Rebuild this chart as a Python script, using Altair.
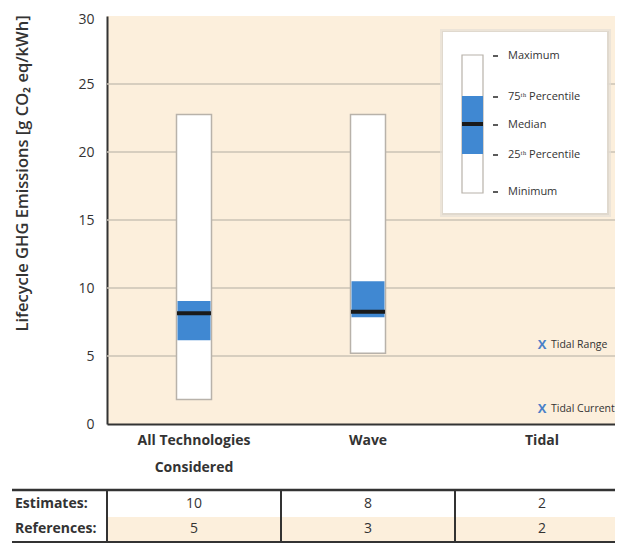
import altair as alt
import pandas as pd

# ---- data ----
categories = ["All Technologies\nConsidered", "Wave", "Tidal"]
box_categories = ["All Technologies\nConsidered", "Wave"]
minimum = [1.8, 5.2]
q1 = [6.15, 7.85]
median = [8.15, 8.25]
q3 = [9.05, 10.5]
maximum = [22.75, 22.75]

tidal_types = ["Tidal Range", "Tidal Current"]
tidal_values = [5.8, 1.1]

estimates = [10, 8, 2]
references = [5, 3, 2]

grid_values = [5, 10, 15, 20, 25]
y_ticks = [0, 5, 10, 15, 20, 25, 30]

# ---- tables ----
box_df = pd.DataFrame({"cat": box_categories, "min": minimum, "q1": q1,
                       "med": median, "q3": q3, "max": maximum})
tidal_df = pd.DataFrame({"cat": ["Tidal"] * len(tidal_types),
                         "type": tidal_types, "val": tidal_values})
table_df = pd.DataFrame({"cat": categories, "est": estimates, "ref": references})
grid_df = pd.DataFrame({"v": grid_values})
dummy = pd.DataFrame({"a": [0]})

W, H = 508, 408
FONT = "Open Sans"
DARK = "#333333"
BEIGE = "#FCEFDC"
BLUE = "#4088D2"

xscale = alt.Scale(domain=categories, range=[0, 522], paddingInner=0, paddingOuter=0)
yscale = alt.Scale(domain=[0, 30], nice=False)

X = alt.X("cat:N", scale=xscale, sort=categories,
          axis=alt.Axis(title=None, domain=True, domainColor=DARK, domainWidth=2,
                        ticks=False, labelAngle=0, labelFont=FONT, labelFontSize=14,
                        labelFontWeight="bold", labelColor=DARK, labelPadding=9,
                        labelLineHeight=27, labelExpr="split(datum.label, '\\n')"))
Y_axis = alt.Axis(title="Lifecycle GHG Emissions [g CO\u2082 eq/kWh]", values=y_ticks,
                  grid=False, domain=True, domainColor=DARK, domainWidth=2,
                  ticks=False, labelFont=FONT, labelFontSize=14, labelColor=DARK,
                  labelPadding=13,
                  labelOffset={"condition": {"test": "datum.value == 30", "value": 3},
                               "value": 0},
                  titleFont=FONT, titleFontSize=16.5,
                  titleFontWeight=600, titleColor=DARK, titleAngle=270,
                  titleX=-85, titleY=157, titleAlign="center", titleBaseline="middle")

grid = alt.Chart(grid_df).mark_rule(color="#CBC3B6", strokeWidth=1.5).encode(
    y=alt.Y("v:Q", scale=yscale, axis=Y_axis), x=alt.value(0), x2=alt.value(W))

whisker = alt.Chart(box_df).mark_bar(size=35, color="white", stroke="#B8B2AA",
                                     strokeWidth=1.5).encode(
    x=X, y=alt.Y("min:Q", scale=yscale), y2="max:Q")
iqr = alt.Chart(box_df).mark_bar(size=33, color=BLUE).encode(
    x=X, y=alt.Y("q1:Q", scale=yscale), y2="q3:Q")
med = alt.Chart(box_df).mark_tick(size=34, thickness=4, color="#1A1A1A", opacity=1).encode(
    x=X, y=alt.Y("med:Q", scale=yscale))

tidal_x = alt.Chart(tidal_df).mark_text(text="X", font=FONT, fontSize=13,
                                        fontWeight="bold", color="#4A80C8").encode(
    x=X, y=alt.Y("val:Q", scale=yscale))
tidal_lab = alt.Chart(tidal_df).mark_text(align="left", dx=9, font=FONT, fontSize=10.5,
                                          color=DARK).encode(
    x=X, y=alt.Y("val:Q", scale=yscale), text="type:N")


def rect(x, x2, y, y2, **kw):
    return alt.Chart(dummy).mark_rect(**kw).encode(
        x=alt.value(x), x2=alt.value(x2), y=alt.value(y), y2=alt.value(y2))


def hline(x, x2, y, **kw):
    return alt.Chart(dummy).mark_rule(**kw).encode(
        x=alt.value(x), x2=alt.value(x2), y=alt.value(y))


def txt(s, x, y, **kw):
    return alt.Chart(dummy).mark_text(text=s, baseline="middle", font=FONT, **kw).encode(
        x=alt.value(x), y=alt.value(y))


# ---- legend box ----
legend_layers = [
    rect(333, 504, 13, 201, color="#E6DFD5", opacity=0.7),
    rect(335, 502, 15, 199, color="#DDD6CC", opacity=0.8),
    rect(336, 500, 16, 197, color="white"),
    rect(355, 376, 39, 177, color="white", stroke="#B8B2AA", strokeWidth=1.2),
    rect(355, 376, 80, 138, color=BLUE),
    rect(355, 376, 106, 110, color="#1A1A1A"),
]
legend_items = [("Maximum", 40), ("75\u1d57\u02b0 Percentile", 81), ("Median", 109),
                ("25\u1d57\u02b0 Percentile", 139), ("Minimum", 176)]
for lab, yy in legend_items:
    legend_layers.append(hline(386, 391, yy, color=DARK, strokeWidth=1.6))
    legend_layers.append(txt(lab, 401, yy, align="left", fontSize=11, color=DARK))

# ---- table under the chart ----
table_layers = [
    rect(0, W, 501, 525, color=BEIGE),
    hline(-95, W, 474, color=DARK, strokeWidth=2.5),
    hline(-95, W, 526, color=DARK, strokeWidth=2),
    alt.Chart(table_df).mark_rule(color=DARK, strokeWidth=2).encode(
        x=alt.X("cat:N", scale=xscale, sort=categories, bandPosition=0),
        y=alt.value(474), y2=alt.value(526)),
    alt.Chart(table_df).mark_text(font=FONT, fontSize=14, color=DARK, baseline="middle").encode(
        x=alt.X("cat:N", scale=xscale, sort=categories), y=alt.value(488), text="est:Q"),
    alt.Chart(table_df).mark_text(font=FONT, fontSize=14, color=DARK, baseline="middle").encode(
        x=alt.X("cat:N", scale=xscale, sort=categories), y=alt.value(513), text="ref:Q"),
    txt("Estimates:", -92, 488, align="left", fontSize=14, fontWeight="bold", color=DARK),
    txt("References:", -92, 513, align="left", fontSize=14, fontWeight="bold", color=DARK),
]

chart = alt.layer(grid, whisker, iqr, med, tidal_x, tidal_lab,
                  *legend_layers, *table_layers).properties(
    width=W, height=H,
    autosize=alt.AutoSizeParams(type="none"),
    padding={"left": 99, "top": 8, "right": 0, "bottom": 119},
    background="white",
).configure_view(fill=BEIGE, stroke=None)

chart.save("out.html", embed_options={"renderer": "svg", "actions": False})
